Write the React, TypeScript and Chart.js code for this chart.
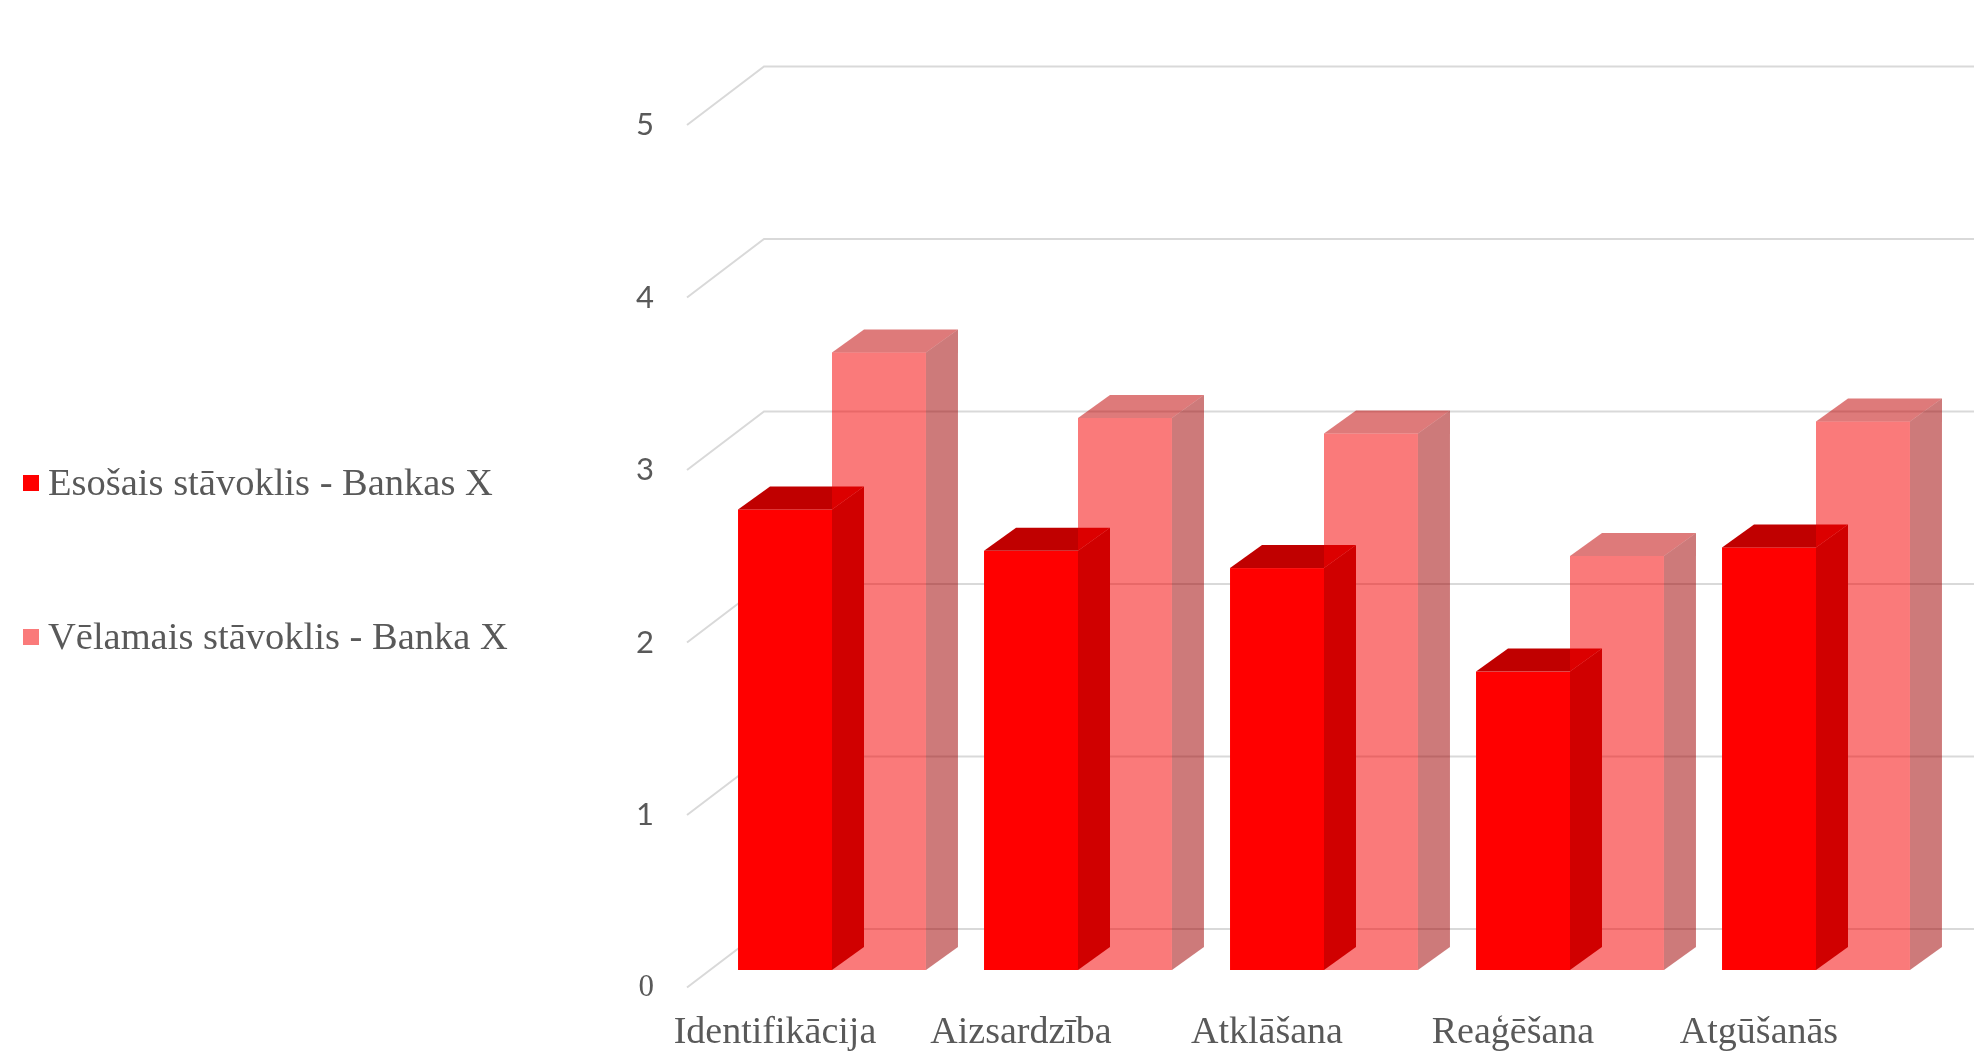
import React, { useEffect, useRef } from 'react';
import { Chart, registerables } from 'chart.js';

Chart.register(...registerables);

// ---- data ----
const categories = ['Identifikācija', 'Aizsardzība', 'Atklāšana', 'Reaģēšana', 'Atgūšanās'];
const seriesNames = ['Esošais stāvoklis - Bankas X', 'Vēlamais stāvoklis - Banka X'];
const currentValues = [2.67, 2.43, 2.33, 1.73, 2.45];
const desiredValues = [3.58, 3.2, 3.11, 2.4, 3.18];
const yTickValues = [0, 1, 2, 3, 4, 5];

// ---- styles ----
const W = 1974;
const H = 1055;
const TEXT = '#595959';
const SERIF = '"Liberation Serif", "Times New Roman", serif';
const SANS = 'Lato, "Open Sans", sans-serif';
const FACES = [
  { front: '#FF0000', top: '#C00000', side: '#D00000', legend: '#FF0000' },
  { front: 'rgba(245,0,0,0.52)', top: 'rgba(191,0,0,0.52)', side: 'rgba(159,0,0,0.52)', legend: '#FA7A7A' },
];
const BAR_DX = 32;
const BAR_DY = 23;
const WALL_FRONT_X = -22; // relative to chartArea.left
const WALL_BACK_X = 55;
const WALL_FRONT_DY = 17.5;
const WALL_BACK_DY = -41;
const GRID = '#D9D9D9';

function barGeom(el: any) {
  const { x, y, base, width } = el.getProps(['x', 'y', 'base', 'width'], true);
  return { l: x - width / 2, r: x + width / 2, top: y, base };
}
function drawFront(ctx: any, g: any, c: string) {
  ctx.fillStyle = c;
  ctx.fillRect(g.l, g.top, g.r - g.l, g.base - g.top);
}
function drawTop(ctx: any, g: any, c: string) {
  ctx.fillStyle = c;
  ctx.beginPath();
  ctx.moveTo(g.l, g.top);
  ctx.lineTo(g.r, g.top);
  ctx.lineTo(g.r + BAR_DX, g.top - BAR_DY);
  ctx.lineTo(g.l + BAR_DX, g.top - BAR_DY);
  ctx.closePath();
  ctx.fill();
}
function drawSide(ctx: any, g: any, c: string) {
  ctx.fillStyle = c;
  ctx.beginPath();
  ctx.moveTo(g.r, g.top);
  ctx.lineTo(g.r + BAR_DX, g.top - BAR_DY);
  ctx.lineTo(g.r + BAR_DX, g.base - BAR_DY);
  ctx.lineTo(g.r, g.base);
  ctx.closePath();
  ctx.fill();
}

const threeD = {
  id: 'threeD',
  beforeDatasetsDraw(chart: any) {
    const ctx = chart.ctx;
    const area = chart.chartArea;
    const y = chart.scales.y;
    ctx.save();
    // walls / gridlines
    ctx.strokeStyle = GRID;
    ctx.lineWidth = 2;
    for (const v of yTickValues) {
      const py = y.getPixelForValue(v);
      ctx.beginPath();
      ctx.moveTo(area.left + WALL_FRONT_X, py + WALL_FRONT_DY);
      ctx.lineTo(area.left + WALL_BACK_X, py + WALL_BACK_DY);
      ctx.lineTo(chart.width, py + WALL_BACK_DY);
      ctx.stroke();
    }
    const red = chart.getDatasetMeta(0).data.map(barGeom);
    const pink = chart.getDatasetMeta(1).data.map(barGeom);
    // solid series: front + top
    red.forEach((g: any) => { drawFront(ctx, g, FACES[0].front); drawTop(ctx, g, FACES[0].top); });
    // translucent series
    pink.forEach((g: any) => {
      drawFront(ctx, g, FACES[1].front);
      drawTop(ctx, g, FACES[1].top);
      drawSide(ctx, g, FACES[1].side);
    });
    // solid series side faces on top
    red.forEach((g: any) => drawSide(ctx, g, FACES[0].side));
    ctx.restore();
    return false;
  },
  afterDraw(chart: any) {
    const ctx = chart.ctx;
    ctx.save();
    ctx.font = `38.5px ${SERIF}`;
    ctx.textBaseline = 'alphabetic';
    ctx.textAlign = 'left';
    const rows = [495, 649];
    chart.data.datasets.forEach((ds: any, i: number) => {
      const base = rows[i];
      ctx.fillStyle = FACES[i].legend;
      ctx.fillRect(23, base - 20, 16, 16);
      ctx.fillStyle = TEXT;
      ctx.fillText(ds.label, 48, base);
    });
    ctx.restore();
  },
};

export default function App() {
  const ref = useRef<HTMLCanvasElement | null>(null);
  useEffect(() => {
    if (!ref.current) return;
    const chart = new Chart(ref.current, {
      type: 'bar',
      data: {
        labels: categories,
        datasets: [
          { label: seriesNames[0], data: currentValues, backgroundColor: FACES[0].front },
          { label: seriesNames[1], data: desiredValues, backgroundColor: FACES[1].front },
        ],
      },
      options: {
        responsive: false,
        animation: false,
        devicePixelRatio: 1,
        layout: { padding: { left: 0, right: 35, top: 107.5, bottom: 0 } },
        datasets: { bar: { barPercentage: 1, categoryPercentage: 0.764 } },
        plugins: { legend: { display: false }, tooltip: { enabled: false } },
        scales: {
          x: {
            grid: { display: false, drawTicks: false },
            border: { display: false },
            ticks: { color: TEXT, font: { family: SERIF, size: 38 }, padding: 40, labelOffset: -57, maxRotation: 0, autoSkip: false },
            afterFit: (s: any) => { s.height = 85; },
          },
          y: {
            min: 0,
            max: 5,
            grid: { display: false, drawTicks: false },
            border: { display: false },
            ticks: {
              stepSize: 1,
              color: TEXT,
              padding: 55,
              labelOffset: 17.5,
              font: (c: any) => (c.tick && c.tick.value === 0 ? { family: SERIF, size: 31 } : { family: SANS, size: 31 }),
            },
            afterFit: (s: any) => { s.width = 709; },
          },
        },
      },
      plugins: [threeD],
    } as any);
    return () => chart.destroy();
  }, []);
  return (
    <div style={{ position: 'absolute', left: 0, top: 0, width: W, height: H, background: '#fff' }}>
      <canvas ref={ref} width={W} height={H} style={{ width: W, height: H, display: 'block' }} />
    </div>
  );
}
